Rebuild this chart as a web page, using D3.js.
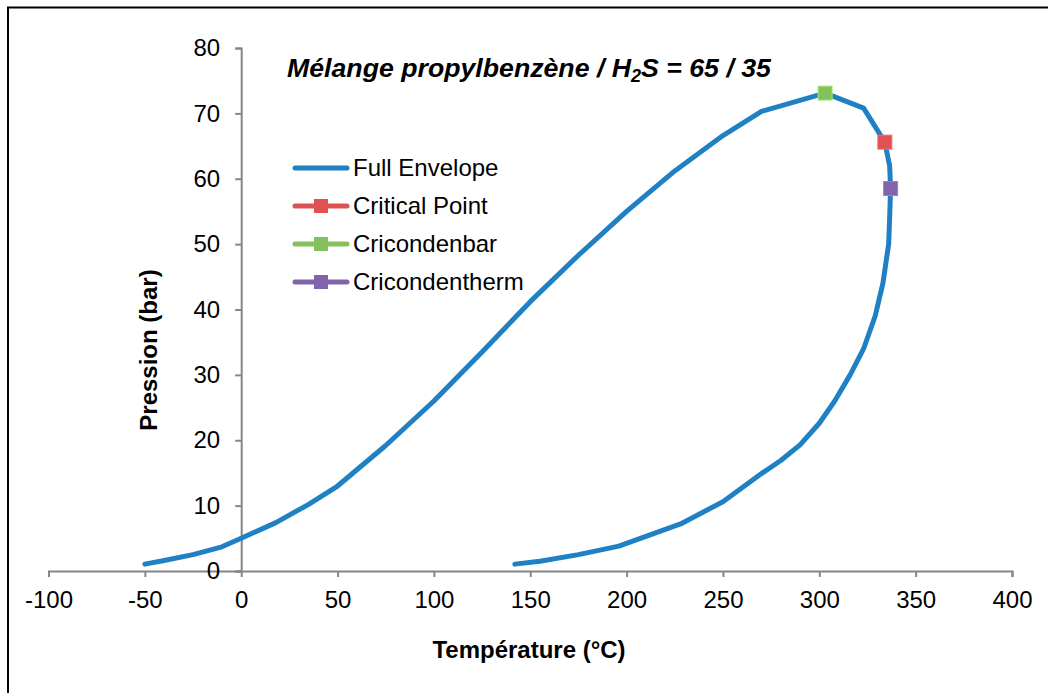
<!DOCTYPE html>
<html><head><meta charset="utf-8">
<script src="https://cdn.jsdelivr.net/npm/d3@7"></script>
<style>body{margin:0;background:#fff}svg{display:block;font-family:"Liberation Sans",Arial,sans-serif}</style>
</head><body><svg id="c" width="1048" height="693"></svg>
<script>
const envT = [-50,-40,-25,-10,0,18,35,50,75,100,125,150,175,200,225,250,270,303,323,334,336.5,337,336.5,336,333,329,323,316,308,300,290,280,270,250,228,196,175,155,142];
const envP = [1.05,1.6,2.5,3.7,5.0,7.4,10.2,13,19.2,26,33.5,41.2,48.3,55,61.2,66.6,70.3,73.1,70.8,65.6,62,58.5,54,50,44,39,34,30,26,22.6,19.3,16.9,14.9,10.6,7.2,3.8,2.5,1.5,1.05];
const critical = {t:334, p:65.6};
const cricondenbar = {t:303, p:73.1};
const cricondentherm = {t:337, p:58.5};
const xTicks = [-100,-50,0,50,100,150,200,250,300,350,400];
const yTicks = [0,10,20,30,40,50,60,70,80];
const seriesNames = ["Full Envelope","Critical Point","Cricondenbar","Cricondentherm"];
const seriesColors = ["#1f80c4","#e05252","#84c15c","#8264aa"];

const svg = d3.select("#c");
svg.append("rect").attr("x",8).attr("y",7.5).attr("width",1100).attr("height",800)
  .attr("fill","none").attr("stroke","#000").attr("stroke-width",2);

const x = d3.scaleLinear().domain([-100,400]).range([48.5,1012]);
const y = d3.scaleLinear().domain([0,80]).range([571,48]);
const axisColor = "#868686";
const fmt = d => String(d);

const gx = svg.append("g").attr("transform",`translate(0,${y(0)})`)
  .call(d3.axisBottom(x).tickValues(xTicks).tickSize(6).tickPadding(14).tickFormat(fmt));
const gy = svg.append("g").attr("transform",`translate(${x(0)},0)`)
  .call(d3.axisLeft(y).tickValues(yTicks).tickSize(6).tickPadding(15).tickFormat(fmt));
[gx,gy].forEach(g=>{
  g.select(".domain").attr("stroke",axisColor).attr("stroke-width",2);
  g.selectAll(".tick line").attr("stroke",axisColor).attr("stroke-width",2);
  g.selectAll(".tick text").attr("fill","#000").attr("font-size",24).attr("font-family","Liberation Sans, Arial, sans-serif");
});
gx.selectAll(".tick text").attr("dy","0.71em");

const data = envT.map((t,i)=>({t, p:envP[i]}));
svg.append("path").datum(data)
  .attr("d", d3.line().x(d=>x(d.t)).y(d=>y(d.p)).curve(d3.curveLinear))
  .attr("fill","none").attr("stroke",seriesColors[0]).attr("stroke-width",5)
  .attr("stroke-linecap","round").attr("stroke-linejoin","round");

const ms = 14;
[[critical,seriesColors[1]],[cricondenbar,seriesColors[2]],[cricondentherm,seriesColors[3]]].forEach(([pt,c])=>{
  svg.append("rect").attr("x",x(pt.t)-ms/2).attr("y",y(pt.p)-ms/2).attr("width",ms).attr("height",ms)
    .attr("fill",c).attr("stroke",d3.color(c).brighter(0.6)).attr("stroke-width",1);
});

// title
const title = svg.append("text").attr("x",287).attr("y",77).attr("font-size",26.7)
  .attr("font-weight","bold").attr("font-style","italic").attr("fill","#000");
title.append("tspan").text("Mélange propylbenzène / H");
title.append("tspan").text("2").attr("font-size",18).attr("dy",5);
title.append("tspan").text("S = 65 / 35").attr("dy",-5);

// legend
const legY = [168,206,244,282];
seriesNames.forEach((n,i)=>{
  const g = svg.append("g");
  g.append("line").attr("x1",295).attr("x2",347).attr("y1",legY[i]).attr("y2",legY[i])
    .attr("stroke",seriesColors[i]).attr("stroke-width",5).attr("stroke-linecap","round");
  if(i>0) g.append("rect").attr("x",321-7).attr("y",legY[i]-7).attr("width",14).attr("height",14).attr("fill",seriesColors[i]);
  g.append("text").attr("x",353).attr("y",legY[i]).attr("dy","0.35em").attr("font-size",24).attr("fill","#000").text(n);
});

// axis titles
svg.append("text").attr("x",529).attr("y",658).attr("text-anchor","middle").attr("font-size",24)
  .attr("font-weight","bold").text("Température (°C)");
svg.append("text").attr("transform","translate(157,350) rotate(-90)").attr("text-anchor","middle")
  .attr("font-size",24).attr("font-weight","bold").text("Pression (bar)");
</script></body></html>
